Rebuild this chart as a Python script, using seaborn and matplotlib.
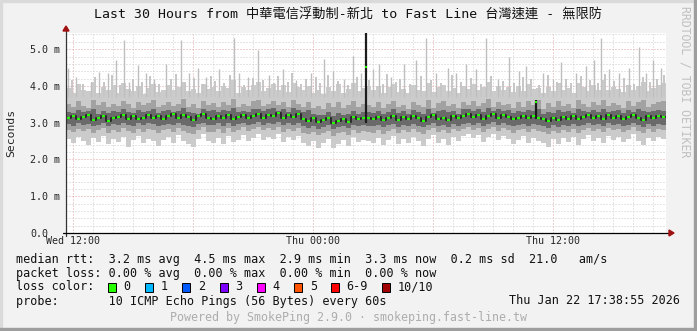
import numpy as np
import pandas as pd
import matplotlib
matplotlib.use("Agg")
import matplotlib.pyplot as plt
import seaborn as sns
from matplotlib.patches import Rectangle, Polygon
from matplotlib.lines import Line2D

# ---------------- data ----------------
title = "Last 30 Hours from 中華電信浮動制-新北 to Fast Line 台灣速連 - 無限防"
span_hours = 30
x_tick_hours = [0.35, 6.35, 12.35, 18.35, 24.35]
x_tick_labels = ["Wed 12:00", "", "Thu 00:00", "", "Thu 12:00"]
x_minor_hours = [0.35 + h for h in range(30)]
y_ticks = [0, 1, 2, 3, 4, 5]
y_tick_labels = ["0.0", "1.0 m", "2.0 m", "3.0 m", "4.0 m", "5.0 m"]
y_minor = [round(0.2 * k, 1) for k in range(28)]
y_max = 5.44

# median rtt per 15-min step (ms)
median_ms = [
    3.12, 3.18, 3.10, 3.15, 3.20, 3.08, 3.14, 3.17, 3.05, 3.12,
    3.16, 3.22, 3.11, 3.18, 3.09, 3.14, 3.21, 3.13, 3.19, 3.10,
    3.17, 3.24, 3.12, 3.20, 3.15, 3.08, 3.18, 3.23, 3.14, 3.11,
    3.19, 3.13, 3.22, 3.09, 3.16, 3.21, 3.12, 3.18, 3.25, 3.14,
    3.22, 3.17, 3.26, 3.13, 3.20, 3.15, 3.24, 3.10, 3.05, 3.12,
    3.02, 3.08, 3.14, 2.98, 3.06, 3.11, 3.03, 3.16, 3.09, 3.13,
    3.12,
    3.10, 3.16, 3.07, 3.13, 3.19, 3.08, 3.15, 3.11, 3.18,
    3.12, 3.06, 3.15, 3.20, 3.10, 3.14, 3.08, 3.17, 3.12, 3.19,
    3.24, 3.15, 3.21, 3.11, 3.18, 3.23, 3.13, 3.20, 3.16, 3.09,
    3.14, 3.19, 3.12, 3.17, 3.13, 3.10, 3.04, 3.13, 3.08, 3.15,
    3.11, 3.18, 3.09, 3.16, 3.21, 3.12, 3.17, 3.10, 3.20, 3.14,
    3.19, 3.11, 3.16, 3.22, 3.13, 3.08, 3.17, 3.12, 3.19, 3.15,
]
# smoke: max ping (light body top)
smoke_top = [
    3.95, 3.80, 4.05, 3.90, 3.85, 4.10, 3.82, 3.98, 3.88, 4.02,
    3.80, 4.08, 3.92, 3.86, 4.00, 3.78, 3.95, 4.05, 3.84, 3.90,
    4.02, 3.88, 3.96, 4.12, 3.85, 3.93, 3.80, 4.06, 3.91, 3.98,
    3.86, 4.00, 3.94, 4.15, 3.82, 3.97, 3.89, 4.03, 4.10, 3.87,
    3.95, 4.05, 3.90, 4.02, 3.84, 4.08, 3.96, 3.88, 4.00, 3.82,
    3.90, 3.78, 3.98, 3.85, 4.04, 3.80, 3.92, 4.07, 3.86, 3.95,
    4.00,
    3.88, 4.00, 3.82, 3.96, 4.05, 3.84, 3.93, 3.80, 4.02,
    3.90, 3.86, 4.08, 3.83, 3.97, 4.03, 3.87, 3.94, 3.81, 4.00,
    3.92, 4.06, 3.89, 3.98, 4.12, 3.85, 4.01, 3.90, 3.96, 3.83,
    3.99, 3.87, 4.04, 3.91, 3.95, 3.80, 3.98, 3.86, 4.07, 3.89,
    3.94, 3.82, 4.09, 3.96, 3.85, 4.02, 3.90, 4.15, 3.88, 3.98,
    3.92, 3.84, 4.03, 3.89, 4.00, 4.10, 3.86, 3.95, 4.02, 4.08,
]
smoke_hi2 = [
    3.50, 3.42, 3.58, 3.46, 3.40, 3.62, 3.48, 3.55, 3.44, 3.52,
    3.45, 3.60, 3.50, 3.41, 3.56, 3.47, 3.53, 3.63, 3.43, 3.49,
    3.57, 3.46, 3.52, 3.65, 3.44, 3.50, 3.40, 3.59, 3.48, 3.54,
    3.43, 3.55, 3.49, 3.64, 3.42, 3.51, 3.46, 3.58, 3.61, 3.45,
    3.52, 3.60, 3.47, 3.56, 3.43, 3.62, 3.50, 3.44, 3.55, 3.40,
    3.46, 3.38, 3.53, 3.42, 3.57, 3.39, 3.48, 3.60, 3.44, 3.51,
    3.47,
    3.44, 3.55, 3.40, 3.52, 3.59, 3.43, 3.49, 3.38, 3.56,
    3.47, 3.42, 3.61, 3.41, 3.53, 3.58, 3.45, 3.50, 3.39, 3.55,
    3.49, 3.60, 3.46, 3.54, 3.64, 3.43, 3.57, 3.47, 3.52, 3.41,
    3.55, 3.44, 3.59, 3.48, 3.62, 3.38, 3.53, 3.43, 3.60, 3.46,
    3.50, 3.40, 3.61, 3.52, 3.42, 3.57, 3.47, 3.63, 3.45, 3.54,
    3.49, 3.41, 3.58, 3.46, 3.55, 3.62, 3.43, 3.51, 3.57, 3.60,
]
smoke_hi3 = [
    3.30, 3.26, 3.34, 3.28, 3.32, 3.36, 3.25, 3.31, 3.27, 3.33,
    3.28, 3.37, 3.30, 3.26, 3.34, 3.29, 3.32, 3.38, 3.27, 3.31,
    3.35, 3.28, 3.33, 3.39, 3.30, 3.27, 3.24, 3.36, 3.31, 3.34,
    3.28, 3.35, 3.32, 3.40, 3.29, 3.33, 3.30, 3.37, 3.38, 3.31,
    3.36, 3.39, 3.32, 3.37, 3.29, 3.40, 3.34, 3.28, 3.35, 3.25,
    3.22, 3.20, 3.28, 3.18, 3.26, 3.21, 3.24, 3.31, 3.23, 3.28,
    3.29,
    3.27, 3.33, 3.24, 3.30, 3.36, 3.26, 3.31, 3.23, 3.34,
    3.29, 3.25, 3.37, 3.27, 3.32, 3.35, 3.28, 3.31, 3.24, 3.36,
    3.38, 3.33, 3.37, 3.30, 3.40, 3.32, 3.36, 3.31, 3.34, 3.26,
    3.33, 3.29, 3.35, 3.31, 3.38, 3.25, 3.30, 3.27, 3.34, 3.29,
    3.31, 3.26, 3.36, 3.32, 3.28, 3.35, 3.30, 3.38, 3.29, 3.33,
    3.34, 3.27, 3.35, 3.30, 3.36, 3.31, 3.28, 3.32, 3.35, 3.33,
]
smoke_lo3 = [
    2.96, 2.92, 2.99, 2.94, 2.97, 2.91, 2.95, 2.98, 2.90, 2.96,
    2.93, 3.00, 2.95, 2.92, 2.98, 2.94, 2.99, 2.96, 2.91, 2.95,
    2.97, 2.93, 2.99, 2.95, 2.92, 2.88, 2.96, 3.00, 2.94, 2.93,
    2.98, 2.92, 2.99, 2.91, 2.96, 3.00, 2.94, 2.97, 3.01, 2.95,
    2.99, 2.96, 3.02, 2.93, 2.98, 2.94, 3.00, 2.90, 2.86, 2.92,
    2.84, 2.89, 2.93, 2.82, 2.88, 2.91, 2.85, 2.94, 2.90, 2.93,
    2.92,
    2.90, 2.95, 2.88, 2.93, 2.97, 2.89, 2.94, 2.91, 2.96,
    2.92, 2.87, 2.95, 2.98, 2.91, 2.94, 2.89, 2.96, 2.92, 2.97,
    3.00, 2.95, 2.99, 2.92, 2.97, 3.01, 2.94, 2.98, 2.95, 2.90,
    2.94, 2.97, 2.92, 2.96, 2.93, 2.91, 2.86, 2.93, 2.89, 2.95,
    2.92, 2.97, 2.90, 2.95, 2.99, 2.93, 2.96, 2.91, 2.98, 2.94,
    2.97, 2.92, 2.95, 3.00, 2.93, 2.89, 2.96, 2.92, 2.97, 2.95,
]
smoke_lo2 = [
    2.80, 2.74, 2.84, 2.77, 2.82, 2.72, 2.79, 2.85, 2.73, 2.81,
    2.76, 2.86, 2.78, 2.71, 2.83, 2.75, 2.84, 2.80, 2.72, 2.79,
    2.82, 2.74, 2.85, 2.78, 2.73, 2.69, 2.81, 2.87, 2.76, 2.75,
    2.83, 2.72, 2.86, 2.74, 2.80, 2.88, 2.77, 2.82, 2.87, 2.79,
    2.85, 2.80, 2.88, 2.76, 2.83, 2.78, 2.86, 2.73, 2.68, 2.75,
    2.66, 2.72, 2.78, 2.64, 2.71, 2.76, 2.67, 2.80, 2.73, 2.77,
    2.76,
    2.73, 2.81, 2.70, 2.78, 2.84, 2.72, 2.79, 2.74, 2.82,
    2.76, 2.69, 2.81, 2.85, 2.74, 2.80, 2.71, 2.83, 2.77, 2.84,
    2.87, 2.80, 2.86, 2.75, 2.83, 2.88, 2.78, 2.85, 2.81, 2.73,
    2.79, 2.84, 2.76, 2.82, 2.78, 2.74, 2.68, 2.77, 2.72, 2.81,
    2.76, 2.83, 2.73, 2.80, 2.86, 2.77, 2.82, 2.74, 2.85, 2.79,
    2.83, 2.75, 2.81, 2.87, 2.78, 2.72, 2.82, 2.76, 2.84, 2.80,
]
smoke_bottom = [
    2.55, 2.45, 2.62, 2.50, 2.40, 2.58, 2.48, 2.65, 2.42, 2.56,
    2.47, 2.60, 2.35, 2.52, 2.63, 2.44, 2.57, 2.50, 2.38, 2.54,
    2.61, 2.46, 2.66, 2.51, 2.43, 2.33, 2.55, 2.68, 2.49, 2.45,
    2.59, 2.41, 2.64, 2.47, 2.53, 2.67, 2.50, 2.58, 2.70, 2.52,
    2.62, 2.55, 2.68, 2.48, 2.60, 2.53, 2.65, 2.44, 2.36, 2.49,
    2.32, 2.45, 2.57, 2.30, 2.43, 2.52, 2.38, 2.60, 2.47, 2.54,
    2.50,
    2.44, 2.58, 2.40, 2.53, 2.64, 2.42, 2.55, 2.46, 2.61,
    2.49, 2.37, 2.57, 2.66, 2.45, 2.56, 2.39, 2.62, 2.51, 2.65,
    2.69, 2.58, 2.66, 2.48, 2.60, 2.70, 2.54, 2.63, 2.57, 2.43,
    2.52, 2.64, 2.46, 2.59, 2.50, 2.44, 2.34, 2.55, 2.41, 2.58,
    2.48, 2.61, 2.40, 2.56, 2.67, 2.50, 2.59, 2.45, 2.63, 2.53,
    2.60, 2.47, 2.56, 2.68, 2.51, 2.39, 2.58, 2.49, 2.62, 2.55,
]
# tall single-sample ping needles (hours since start, ms)
needle_t = [0.10, 0.50, 1.25, 1.65, 2.10, 2.50, 2.90, 3.15, 3.60, 4.00,
            4.40, 5.00, 5.75, 6.15, 6.60, 7.00, 7.65, 8.40, 8.65, 9.10,
            9.60, 10.15, 10.85, 11.50, 12.25, 12.90, 13.35, 13.90, 14.35, 14.75,
            15.35, 15.65, 16.25, 16.90, 17.50, 18.00, 18.50, 19.10, 19.50, 20.00,
            20.50, 21.00, 21.60, 22.15, 22.65, 23.00, 23.85, 24.35, 24.75, 25.50,
            26.00, 26.40, 26.75, 27.15, 27.65, 28.15, 28.65, 29.00, 29.35, 29.75]
needle_v = [4.49, 4.25, 4.11, 4.39, 4.35, 4.71, 5.25, 4.10, 4.57, 4.35,
            4.20, 4.60, 5.25, 4.35, 4.49, 4.25, 4.45, 5.30, 4.35, 4.25,
            4.98, 4.30, 4.45, 4.17, 4.35, 4.72, 4.40, 4.20, 4.81, 4.35,
            4.45, 4.60, 4.25, 4.60, 4.70, 5.30, 4.35, 4.50, 4.35, 4.60,
            4.45, 5.30, 4.20, 4.80, 4.40, 4.55, 4.35, 4.20, 4.65, 4.35,
            4.55, 4.70, 5.30, 4.45, 4.35, 4.50, 5.05, 4.35, 4.70, 4.50]
# shorter ping needles above the smoke body
mid_needle_t = [0.30, 0.85, 1.45, 1.90, 2.30, 2.70, 3.35, 3.80, 4.20, 4.65,
                5.25, 5.50, 5.95, 6.40, 6.85, 7.25, 7.45, 7.90, 8.20, 8.90,
                9.35, 9.85, 10.40, 10.60, 11.10, 11.30, 11.75, 12.00, 12.50, 12.70,
                13.10, 13.60, 14.10, 14.55, 15.15, 15.85, 16.05, 16.50, 16.70, 17.20,
                17.75, 18.25, 18.75, 19.30, 19.75, 20.25, 20.75, 21.25, 21.85, 22.40,
                22.85, 23.25, 23.65, 24.10, 24.55, 25.00, 25.25, 25.75, 26.20, 26.60,
                26.95, 27.40, 27.90, 28.40, 28.85, 29.20, 29.55, 29.90]
mid_needle_v = [4.15, 4.05, 4.25, 4.10, 4.30, 4.02, 4.20, 4.12, 4.28, 4.06,
                4.18, 4.33, 4.08, 4.22, 4.04, 4.26, 4.14, 4.09, 4.31, 4.03,
                4.21, 4.16, 4.07, 4.27, 4.11, 4.35, 4.05, 4.19, 4.24, 4.08,
                4.29, 4.13, 4.02, 4.23, 4.17, 4.06, 4.32, 4.10, 4.20, 4.04,
                4.26, 4.15, 4.09, 4.30, 4.12, 4.22, 4.05, 4.28, 4.14, 4.08,
                4.24, 4.18, 4.03, 4.31, 4.11, 4.20, 4.07, 4.27, 4.16, 4.09,
                4.33, 4.13, 4.21, 4.05, 4.25, 4.10, 4.19, 4.29]
# high-median spikes
spike_t = [15.0, 23.5]
spike_lo = [3.00, 3.10]
spike_hi = [5.44, 3.62]
spike_med = [4.52, 3.56]

legend_rows = [
    "median rtt:  3.2 ms avg  4.5 ms max  2.9 ms min  3.3 ms now  0.2 ms sd  21.0   am/s",
    "packet loss: 0.00 % avg  0.00 % max  0.00 % min  0.00 % now",
    "loss color:",
    "probe:       10 ICMP Echo Pings (56 Bytes) every 60s",
]
loss_labels = ["0", "1", "2", "3", "4", "5", "6-9", "10/10"]
loss_colors = ["#26ff00", "#00b8ff", "#0059ff", "#7e00ff", "#ff00ff", "#ff5500", "#ff0000", "#a10000"]
date_text = "Thu Jan 22 17:38:55 2026"
footer = "Powered by SmokePing 2.9.0 · smokeping.fast-line.tw"
watermark = "RRDTOOL / TOBI OETIKER"

# ---------------- figure ----------------
sns.set_style("white")
MONO = ["DejaVu Sans Mono", "Noto Sans CJK TC"]
plt.rcParams["font.family"] = MONO

W, H = 697, 331
fig = plt.figure(figsize=(W / 100, H / 100), dpi=100)
fig.patch.set_facecolor("#F2F2F2")


def fx(x):
    return x / W


def fy(y):
    return 1 - y / H


# 3D frame
fig.patches.append(Rectangle((0, fy(2)), 1, 2 / H, transform=fig.transFigure, color="#DADADA", zorder=0))
fig.patches.append(Rectangle((0, 0), 2 / W, 1, transform=fig.transFigure, color="#DADADA", zorder=0))
fig.patches.append(Rectangle((fx(W - 3), 0), 3 / W, 1, transform=fig.transFigure, color="#9E9E9E", zorder=0))
fig.patches.append(Rectangle((0, 0), 1, 3 / H, transform=fig.transFigure, color="#9E9E9E", zorder=0))

L, R, T, B = 66, 666, 33, 233
ax = fig.add_axes([fx(L), fy(B), (R - L) / W, (B - T) / H])
ax.set_facecolor("white")

N = len(median_ms)
edges = np.linspace(0, span_hours, N + 1)
starts, ends = edges[:-1], edges[1:]


def ext(a):
    return list(a) + [a[-1]]


ax.fill_between(edges, ext(smoke_bottom), ext(smoke_top), step="post", color="#CBCBCB", lw=0, zorder=2)
ax.vlines(needle_t, 3.7, needle_v, colors="#BEBEBE", lw=1.0, zorder=2)
ax.vlines(mid_needle_t, 3.7, mid_needle_v, colors="#C6C6C6", lw=1.4, zorder=2)
ax.fill_between(edges, ext(smoke_lo2), ext(smoke_hi2), step="post", color="#A2A2A2", lw=0, zorder=3)
ax.fill_between(edges, ext(smoke_lo3), ext(smoke_hi3), step="post", color="#6A6A6A", lw=0, zorder=4)

df = pd.DataFrame({"t": edges, "median": ext(median_ms)})
sns.lineplot(data=df, x="t", y="median", drawstyle="steps-post", color="#262626",
             lw=1.3, ax=ax, zorder=5, legend=False)
ax.vlines(spike_t, spike_lo, spike_hi, colors="#1c1c1c", lw=1.6, zorder=6)
ax.hlines(median_ms, starts + 0.06, ends - 0.04, colors="#26ff00", lw=1.5, zorder=7)
ax.hlines(spike_med, np.array(spike_t) - 0.06, np.array(spike_t) + 0.06, colors="#26ff00", lw=1.5, zorder=7)

ax.set_xlim(0, span_hours)
ax.set_ylim(0, y_max)
ax.set_xlabel("")
ax.set_ylabel("")

ax.set_xticks(x_tick_hours)
ax.set_xticklabels(x_tick_labels, fontsize=7.2)
ax.set_xticks(x_minor_hours, minor=True)
ax.set_yticks(y_ticks)
ax.set_yticklabels(y_tick_labels, fontsize=7.2, ha="left")
ax.set_yticks(y_minor, minor=True)
ax.tick_params(axis="x", which="both", length=0, pad=2.5)
ax.tick_params(axis="y", which="both", length=0, pad=25.9)

ax.grid(which="minor", color="#CDCDCD", linestyle=(0, (1, 2)), lw=0.72)
ax.grid(which="major", color="#E2A2A2", linestyle=(0, (1, 2)), lw=0.72)
ax.set_axisbelow(True)
for s in ax.spines.values():
    s.set_visible(False)

# axes lines with arrows
fig.add_artist(Line2D([fx(L), fx(L)], [fy(B + 3), fy(T - 3)], color="#333333", lw=0.9))
fig.add_artist(Line2D([fx(L - 3), fx(R + 4)], [fy(B), fy(B)], color="black", lw=0.9))
fig.patches.append(Polygon([(fx(L - 3), fy(T - 2)), (fx(L + 3), fy(T - 2)), (fx(L), fy(T - 7))],
                           closed=True, transform=fig.transFigure, color="#A01010", zorder=5))
fig.patches.append(Polygon([(fx(R + 3), fy(B - 3)), (fx(R + 3), fy(B + 3)), (fx(R + 8), fy(B))],
                           closed=True, transform=fig.transFigure, color="#A01010", zorder=5))

# texts
fig.text(0.5, fy(15), title, ha="center", va="center", fontsize=9.5, family=MONO, color="#111111")
fig.text(fx(11), fy(133), "Seconds", rotation=90, ha="center", va="center", fontsize=8.2, family=MONO)
fig.text(fx(685), fy(82), watermark, rotation=-90, ha="center", va="center", fontsize=8.3,
         family=MONO, color="#C0C0C0")

row_y = [259, 273, 287, 301]
for txt, yy in zip(legend_rows, row_y):
    fig.text(fx(16), fy(yy), txt, ha="left", va="center", fontsize=8.5, family=MONO, color="#111111")
fig.text(fx(680), fy(301), date_text, ha="right", va="center", fontsize=8.5, family=MONO, color="#111111")

box_x = [108, 145.3, 182.2, 220, 256.9, 294.2, 331.1, 382.2]
for bx, lab, col in zip(box_x, loss_labels, loss_colors):
    fig.patches.append(Rectangle((fx(bx), fy(291.5)), 8 / W, 9 / H, transform=fig.transFigure,
                                 facecolor=col, edgecolor="black", lw=0.7, zorder=5))
    fig.text(fx(bx + 15.5), fy(287), lab, ha="left", va="center", fontsize=8.5, family=MONO, color="#111111")

fig.text(fx(348.5), fy(318), footer, ha="center", va="center", fontsize=8.4, family=MONO, color="#ADADAD")

fig.savefig("out.png", dpi=100, facecolor=fig.get_facecolor())
